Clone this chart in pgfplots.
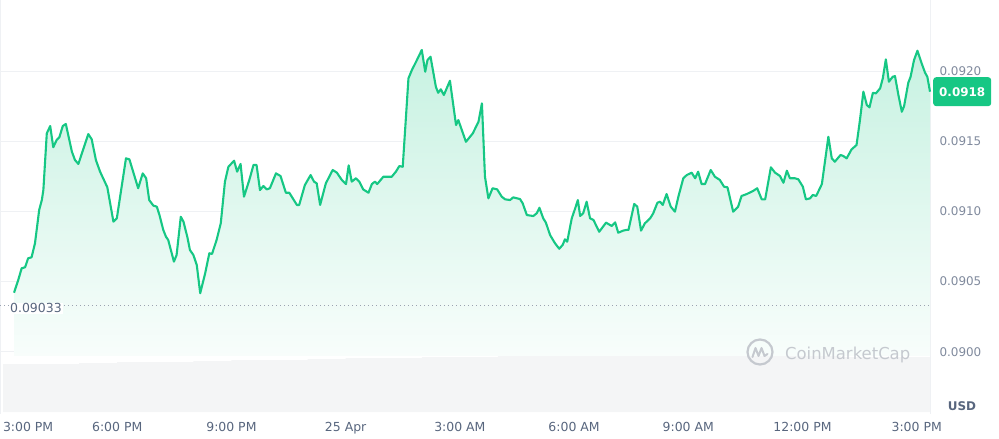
\documentclass[border=0pt]{standalone}
\usepackage{pgfplots}
\pgfplotsset{compat=1.18}
\usepackage{pgfplotstable}
\usepackage{fontspec}
\setmainfont{DejaVu Sans}

\definecolor{cmcgreen}{HTML}{16C784}
\definecolor{ticktext}{HTML}{808A9D}
\definecolor{labeltext}{HTML}{58667E}
\definecolor{gridc}{HTML}{EFF1F4}
\definecolor{volc}{HTML}{F4F5F6}
\definecolor{markc}{HTML}{C5C9CF}

% hours after 3:00 PM, price in USD
\pgfplotstableread{
h p
0.29 0.090421
0.40 0.090511
0.49 0.090595
0.58 0.090602
0.66 0.090666
0.75 0.090673
0.84 0.090773
0.95 0.091010
1.02 0.091081
1.06 0.091152
1.15 0.091556
1.24 0.091608
1.32 0.091457
1.41 0.091509
1.48 0.091528
1.57 0.091608
1.65 0.091623
1.81 0.091425
1.89 0.091366
1.98 0.091338
2.24 0.091551
2.33 0.091514
2.44 0.091366
2.55 0.091283
2.74 0.091172
2.90 0.090927
2.99 0.090951
3.23 0.091378
3.32 0.091371
3.55 0.091165
3.67 0.091271
3.76 0.091236
3.84 0.091081
3.95 0.091041
4.04 0.091034
4.11 0.090974
4.21 0.090868
4.28 0.090820
4.34 0.090796
4.49 0.090642
4.56 0.090690
4.67 0.090962
4.74 0.090927
4.84 0.090820
4.91 0.090725
5.00 0.090690
5.09 0.090618
5.18 0.090417
5.31 0.090559
5.42 0.090702
5.49 0.090697
5.61 0.090796
5.72 0.090915
5.83 0.091212
5.92 0.091318
6.07 0.091361
6.15 0.091283
6.24 0.091338
6.33 0.091105
6.47 0.091224
6.58 0.091331
6.66 0.091331
6.75 0.091152
6.84 0.091181
6.93 0.091157
7.01 0.091165
7.17 0.091271
7.29 0.091252
7.43 0.091133
7.52 0.091133
7.72 0.091046
7.78 0.091046
7.93 0.091188
8.08 0.091259
8.17 0.091212
8.24 0.091200
8.33 0.091046
8.48 0.091200
8.66 0.091295
8.77 0.091276
8.90 0.091224
9.01 0.091195
9.08 0.091328
9.16 0.091212
9.27 0.091236
9.36 0.091212
9.46 0.091157
9.60 0.091133
9.69 0.091195
9.77 0.091212
9.83 0.091195
9.99 0.091247
10.08 0.091247
10.21 0.091247
10.32 0.091283
10.41 0.091323
10.50 0.091318
10.65 0.091948
10.74 0.092007
10.85 0.092066
11.00 0.092150
11.09 0.091995
11.15 0.092078
11.23 0.092102
11.37 0.091888
11.43 0.091845
11.50 0.091870
11.58 0.091829
11.74 0.091931
11.90 0.091615
11.96 0.091651
12.16 0.091496
12.34 0.091556
12.49 0.091639
12.58 0.091770
12.66 0.091247
12.75 0.091093
12.86 0.091165
12.98 0.091157
13.10 0.091105
13.19 0.091086
13.32 0.091081
13.40 0.091100
13.58 0.091088
13.65 0.091058
13.76 0.090974
13.93 0.090967
14.02 0.090987
14.09 0.091026
14.19 0.090951
14.26 0.090920
14.37 0.090832
14.50 0.090773
14.61 0.090734
14.70 0.090761
14.76 0.090801
14.82 0.090784
14.94 0.090951
15.03 0.091022
15.10 0.091081
15.16 0.090967
15.24 0.090987
15.33 0.091069
15.42 0.090951
15.51 0.090939
15.66 0.090855
15.84 0.090920
15.99 0.090896
16.08 0.090922
16.16 0.090848
16.29 0.090863
16.37 0.090868
16.43 0.090868
16.58 0.091053
16.66 0.091034
16.76 0.090863
16.86 0.090915
17.00 0.090951
17.08 0.090987
17.19 0.091062
17.26 0.091069
17.33 0.091046
17.43 0.091124
17.54 0.091034
17.65 0.090998
17.74 0.091105
17.87 0.091236
17.96 0.091259
18.09 0.091276
18.18 0.091236
18.26 0.091283
18.35 0.091195
18.44 0.091195
18.59 0.091295
18.70 0.091247
18.83 0.091224
18.94 0.091176
19.03 0.091172
19.18 0.090998
19.31 0.091034
19.40 0.091110
19.54 0.091124
19.71 0.091147
19.81 0.091165
19.93 0.091086
20.02 0.091086
20.17 0.091314
20.28 0.091276
20.41 0.091252
20.50 0.091204
20.59 0.091290
20.67 0.091236
20.80 0.091236
20.89 0.091229
21.01 0.091176
21.09 0.091086
21.20 0.091093
21.27 0.091117
21.36 0.091110
21.51 0.091195
21.68 0.091532
21.77 0.091378
21.85 0.091354
22.00 0.091402
22.07 0.091395
22.16 0.091378
22.29 0.091442
22.42 0.091473
22.51 0.091651
22.60 0.091853
22.69 0.091758
22.76 0.091741
22.85 0.091845
22.93 0.091841
23.04 0.091877
23.11 0.091948
23.19 0.092083
23.27 0.091924
23.37 0.091959
23.43 0.091964
23.52 0.091829
23.61 0.091710
23.67 0.091751
23.78 0.091917
23.84 0.091959
23.93 0.092078
24.02 0.092145
24.13 0.092055
24.22 0.091988
24.28 0.091959
24.35 0.091853
}\price

% volume, relative bar height per hour
\pgfplotstableread{
h v
0 48
1 48
2 49
3 50
4 50
5 51
6 52
7 52
8 53
9 54
10 54
11 55
12 55
13 56
14 56
15 56
16 56
17 56
18 56
19 56
20 56
21 56
22 55
23 55
24 55
24.35 55
}\volume

\begin{document}
\begin{tikzpicture}
\path[use as bounding box] (0,0) rectangle (999bp,439bp);

% volume strip and time axis
\begin{axis}[
	at={(0bp,25bp)}, anchor=south west,
	scale only axis, width=930bp, height=64bp,
	xmin=-0.079, xmax=24.35, ymin=-2, ymax=62,
	separate axis lines,
	x axis line style={draw=none},
	y axis line style={draw=gridc},
	ytick=\empty,
	xtick={0,3,...,24},
	xticklabels={\makebox[0pt][l]{3:00 PM},6:00 PM,9:00 PM,25 Apr,3:00 AM,6:00 AM,9:00 AM,12:00 PM,3:00 PM},
	major tick length=0,
	xticklabel style={font=\fontsize{12.5}{14}\selectfont, text=labeltext, yshift=-5bp},
]
\addplot[const plot, draw=none, fill=volc] table {\volume} \closedcycle;
\end{axis}

% price
\begin{axis}[
	at={(0bp,83bp)}, anchor=south west,
	scale only axis, width=930bp, height=356bp,
	xmin=-0.079, xmax=24.35, ymin=0.08997, ymax=0.092506,
	separate axis lines,
	x axis line style={draw=none},
	y axis line style={draw=gridc},
	xtick=\empty,
	ytick={0.09,0.0905,0.091,0.0915,0.092},
	ymajorgrids,
	grid style={draw=gridc, line width=0.8bp},
	major tick length=0,
	yticklabel pos=right,
	scaled y ticks=false,
	/pgf/number format/fixed,
	/pgf/number format/fixed zerofill,
	/pgf/number format/precision=4,
	/pgf/number format/assume math mode=true,
	yticklabel style={font=\fontsize{12}{14}\selectfont, text=ticktext, anchor=west, xshift=6bp},
	clip=false,
]
\addplot[draw=none, top color=cmcgreen!24, bottom color=cmcgreen!3, forget plot] table {\price} \closedcycle;
\addplot[labeltext!60, line width=1.1bp, dash pattern=on 1.1bp off 2.9bp] coordinates {(-0.079,0.09033) (24.35,0.09033)};
\addplot[cmcgreen, line width=2.1bp, line join=round] table {\price};
\node[anchor=west, fill=white, inner sep=1bp, text=labeltext, font=\fontsize{12.5}{14}\selectfont, xshift=9bp, yshift=-3bp] at (axis cs:-0.079,0.09033) {0.09033};
\node[anchor=west, fill=cmcgreen, rounded corners=3bp, text=white, font=\bfseries\fontsize{12}{14}\selectfont, minimum width=58bp, minimum height=29bp, inner sep=0pt, xshift=3bp] at (axis cs:24.35,0.091853) {0.0918};
\end{axis}

% watermark
\draw[markc, line width=2.2bp] (760bp,87bp) circle (12.5bp);
\draw[markc, line width=2bp, line join=round, line cap=round]
	(752.5bp,82bp) -- (755.5bp,91bp) -- (758.5bp,83bp) -- (761.5bp,91bp) -- (764.5bp,83bp) -- (767.5bp,85bp);
\node[markc, font=\fontsize{16.5}{18}\selectfont, anchor=west, inner sep=0pt] at (785bp,84bp) {CoinMarketCap};

\node[font=\bfseries\fontsize{12}{14}\selectfont, text=labeltext] at (962bp,33bp) {USD};
\end{tikzpicture}
\end{document}
